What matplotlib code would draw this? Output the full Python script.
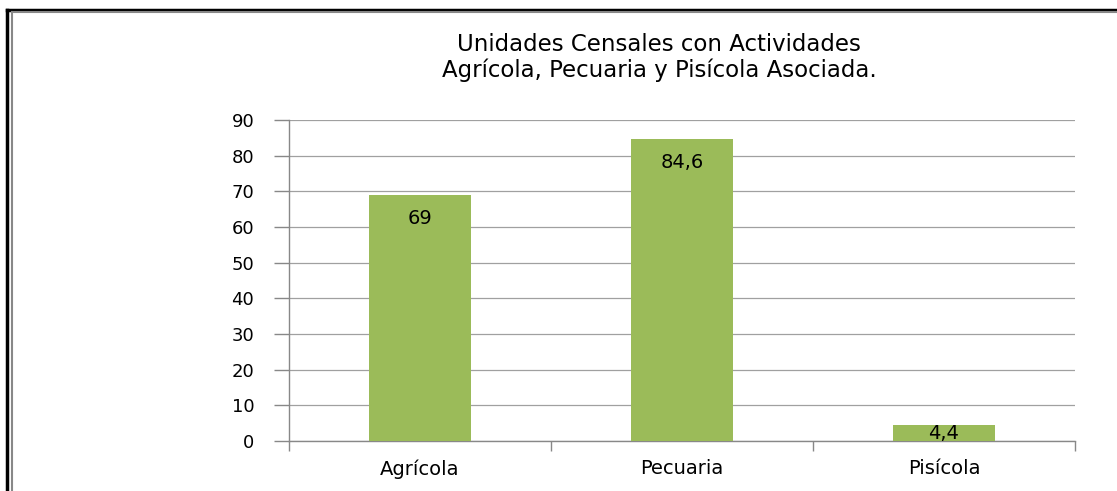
import matplotlib.pyplot as plt
from matplotlib.lines import Line2D

categories = ['Agrícola', 'Pecuaria', 'Pisícola']
values = [69, 84.6, 4.4]
value_labels = ['69', '84,6', '4,4']
yticks = [0, 10, 20, 30, 40, 50, 60, 70, 80, 90]

bar_color = '#9bbb59'
grid_color = '#a0a0a0'

fig = plt.figure(figsize=(11.17, 4.91), dpi=100)
ax = fig.add_axes([0.2587, 0.1018, 0.9624 - 0.2587, 0.7556 - 0.1018])

x_pos = list(range(len(categories)))
ax.bar(x_pos, values, width=0.39, color=bar_color, zorder=3)

for x, v, lab in zip(x_pos, values, value_labels):
    y = max(v - 6.5, v / 2)
    ax.text(x, y, lab, ha='center', va='center', fontsize=14, color='black', zorder=4)

ax.set_xlim(-0.5, 2.5)
ax.set_ylim(0, 90)
ax.set_yticks(yticks)
ax.set_yticklabels([str(t) for t in yticks], fontsize=13)
ax.yaxis.grid(True, color=grid_color, linewidth=0.9, zorder=0)

# category ticks sit between the bars, labels at bar centres
ax.set_xticks([-0.5, 0.5, 1.5, 2.5])
ax.set_xticklabels([])
ax.set_xticks(x_pos, minor=True)
ax.set_xticklabels(categories, minor=True, fontsize=14)
ax.tick_params(axis='x', which='minor', length=0, pad=13)
ax.tick_params(axis='x', which='major', length=7, color='#888888', width=1.0)
ax.tick_params(axis='y', length=11, color='#888888', width=1.0, pad=14)

for s in ['top', 'right']:
    ax.spines[s].set_visible(False)
for s in ['left', 'bottom']:
    ax.spines[s].set_color('#888888')
    ax.spines[s].set_linewidth(1.0)

fig.text(0.59, 0.883, 'Unidades Censales con Actividades\nAgrícola, Pecuaria y Pisícola Asociada.',
         ha='center', va='center', fontsize=16.5, linespacing=1.15)

# frame around the picture
fig.add_artist(Line2D([0.0063, 1.0], [0.9796, 0.9796], color='black', linewidth=2.5))
fig.add_artist(Line2D([0.0063, 0.0063], [0.0, 0.9796], color='black', linewidth=2.5))
fig.add_artist(Line2D([0.0107, 1.0], [0.9756, 0.9756], color='#888888', linewidth=1.5))
fig.add_artist(Line2D([0.0107, 0.0107], [0.0, 0.9756], color='#888888', linewidth=1.5))

plt.savefig('out.png')
